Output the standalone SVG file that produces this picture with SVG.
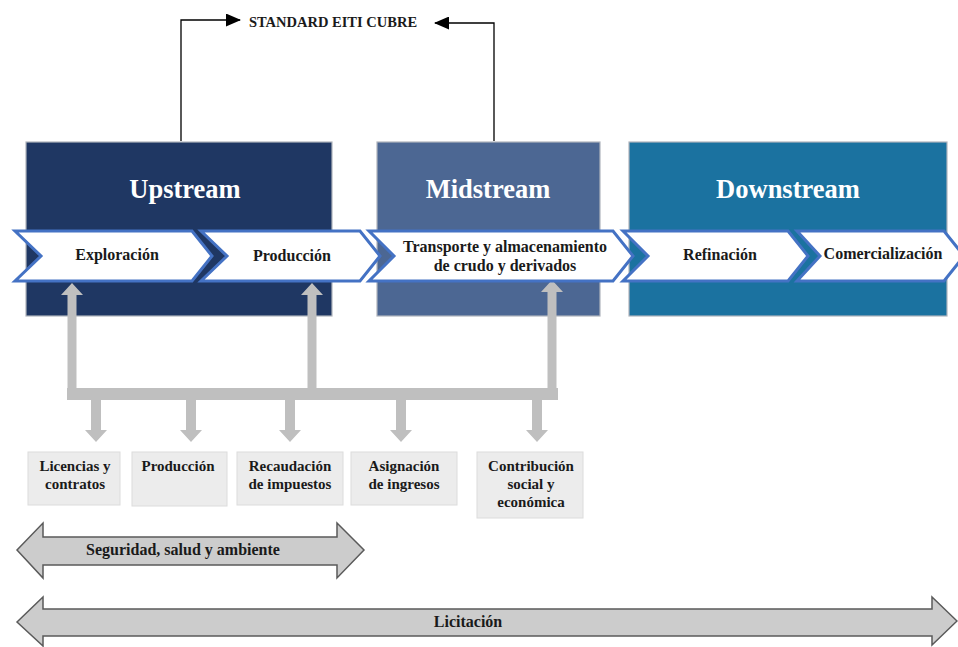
<svg xmlns="http://www.w3.org/2000/svg" width="958" height="647" viewBox="0 0 958 647">
<style>
text{font-family:"Liberation Serif","Times New Roman",serif;font-weight:bold;text-anchor:middle;}
.title{fill:#ffffff;font-size:26.5px;}
.chev{fill:#ffffff;stroke:#4472C4;stroke-width:3;stroke-linejoin:miter;}
.ct{fill:#1a1a1a;font-size:16px;}
.gray{fill:#BFBFBF;}
.lbl{fill:#ECECEC;stroke:#DCDCDC;stroke-width:1;}
.lt{fill:#1a1a1a;font-size:15px;}
.dbl{fill:#CCCCCC;stroke:#5A5A5A;stroke-width:1.5;}
.blk{fill:none;stroke:#000;stroke-width:1.3;}
</style>
<defs>
<marker id="ah" markerWidth="15" markerHeight="13" refX="14" refY="6.5" orient="auto" markerUnits="userSpaceOnUse">
<path d="M0,0 L15,6.5 L0,13 Z" fill="#000"/>
</marker>
</defs>
<rect width="958" height="647" fill="#ffffff"/>

<g id="upstream">
<rect x="26" y="142" width="306" height="174" fill="#1F3763" stroke="#B0B4BC" stroke-width="1.2"/>
<text class="title" x="185" y="198">Upstream</text>
</g>
<g id="midstream">
<rect x="377" y="142" width="223" height="174" fill="#4C6793" stroke="#B0B4BC" stroke-width="1.2"/>
<text class="title" x="488" y="198">Midstream</text>
</g>
<g id="downstream">
<rect x="629" y="142" width="318" height="174" fill="#1B72A0" stroke="#B0B4BC" stroke-width="1.2"/>
<text class="title" x="788" y="198">Downstream</text>
</g>

<g id="standard">
<text x="333" y="27" style="font-size:14.5px;fill:#1a1a1a">STANDARD EITI CUBRE</text>
</g>

<g id="connectors">
<polyline class="blk" points="181,141 181,20 240,20" marker-end="url(#ah)"/>
<polyline class="blk" points="494,141 494,23 435,23" marker-end="url(#ah)"/>
<polygon class="gray" points="67.5,390 67.5,295 61,295 72,283 83,295 76.5,295 76.5,390"/>
<polygon class="gray" points="307.5,390 307.5,295 301,295 312,283 323,295 316.5,295 316.5,390"/>
<polygon class="gray" points="547.5,390 547.5,292 541,292 552,280 563,292 556.5,292 556.5,390"/>
<rect class="gray" x="67" y="388" width="491" height="12"/>
<polygon class="gray" points="91,400 101,400 101,430 107,430 96,442 85,430 91,430"/>
<polygon class="gray" points="186,400 196,400 196,430 202,430 191,442 180,430 186,430"/>
<polygon class="gray" points="285,400 295,400 295,430 301,430 290,442 279,430 285,430"/>
<polygon class="gray" points="396,400 406,400 406,430 412,430 401,442 390,430 396,430"/>
<polygon class="gray" points="532,400 542,400 542,430 548,430 537,442 526,430 532,430"/>
</g>

<g id="exploracion">
<polygon class="chev" points="15,231 192,231 212,256 192,281 15,281 41,256"/>
<text class="ct" x="117" y="260">Exploración</text>
</g>
<g id="produccion">
<polygon class="chev" points="201,231 360,231 380,256 360,281 201,281 227,256"/>
<text class="ct" x="292" y="261">Producción</text>
</g>
<g id="transporte">
<polygon class="chev" points="369,231 613,231 633,256 613,281 369,281 394,256"/>
<text class="ct" x="505" y="252">Transporte y almacenamiento</text>
<text class="ct" x="505" y="271">de crudo y derivados</text>
</g>
<g id="refinacion">
<polygon class="chev" points="623,231 788,231 808,256 788,281 623,281 648,256"/>
<text class="ct" x="720" y="260">Refinación</text>
</g>
<g id="comercializacion">
<polygon class="chev" points="797,231 944,231 964,256 944,281 797,281 820,256"/>
<text class="ct" x="883" y="259">Comercialización</text>
</g>

<g id="licencias">
<rect class="lbl" x="28" y="452" width="92" height="53"/>
<text class="lt" x="75" y="471">Licencias y</text>
<text class="lt" x="75" y="489">contratos</text>
</g>
<g id="produccion2">
<rect class="lbl" x="132" y="452" width="95" height="54"/>
<text class="lt" x="178" y="471">Producción</text>
</g>
<g id="recaudacion">
<rect class="lbl" x="237" y="452" width="106" height="53"/>
<text class="lt" x="290" y="471">Recaudación</text>
<text class="lt" x="290" y="489">de impuestos</text>
</g>
<g id="asignacion">
<rect class="lbl" x="351" y="452" width="106" height="53"/>
<text class="lt" x="404" y="471">Asignación</text>
<text class="lt" x="404" y="489">de ingresos</text>
</g>
<g id="contribucion">
<rect class="lbl" x="477" y="452" width="106" height="66"/>
<text class="lt" x="531" y="471">Contribución</text>
<text class="lt" x="531" y="489">social y</text>
<text class="lt" x="531" y="507">económica</text>
</g>

<g id="seguridad">
<polygon class="dbl" points="17,550 43,523 43,537 337,537 337,523 364,550 337,578 337,565 43,565 43,578"/>
<text class="ct" x="183" y="555">Seguridad, salud y ambiente</text>
</g>
<g id="licitacion">
<polygon class="dbl" points="17,622 43,597 43,609 932,609 932,597 957,621 932,645 932,636 43,636 43,646"/>
<text class="ct" x="468" y="627">Licitación</text>
</g>
</svg>
